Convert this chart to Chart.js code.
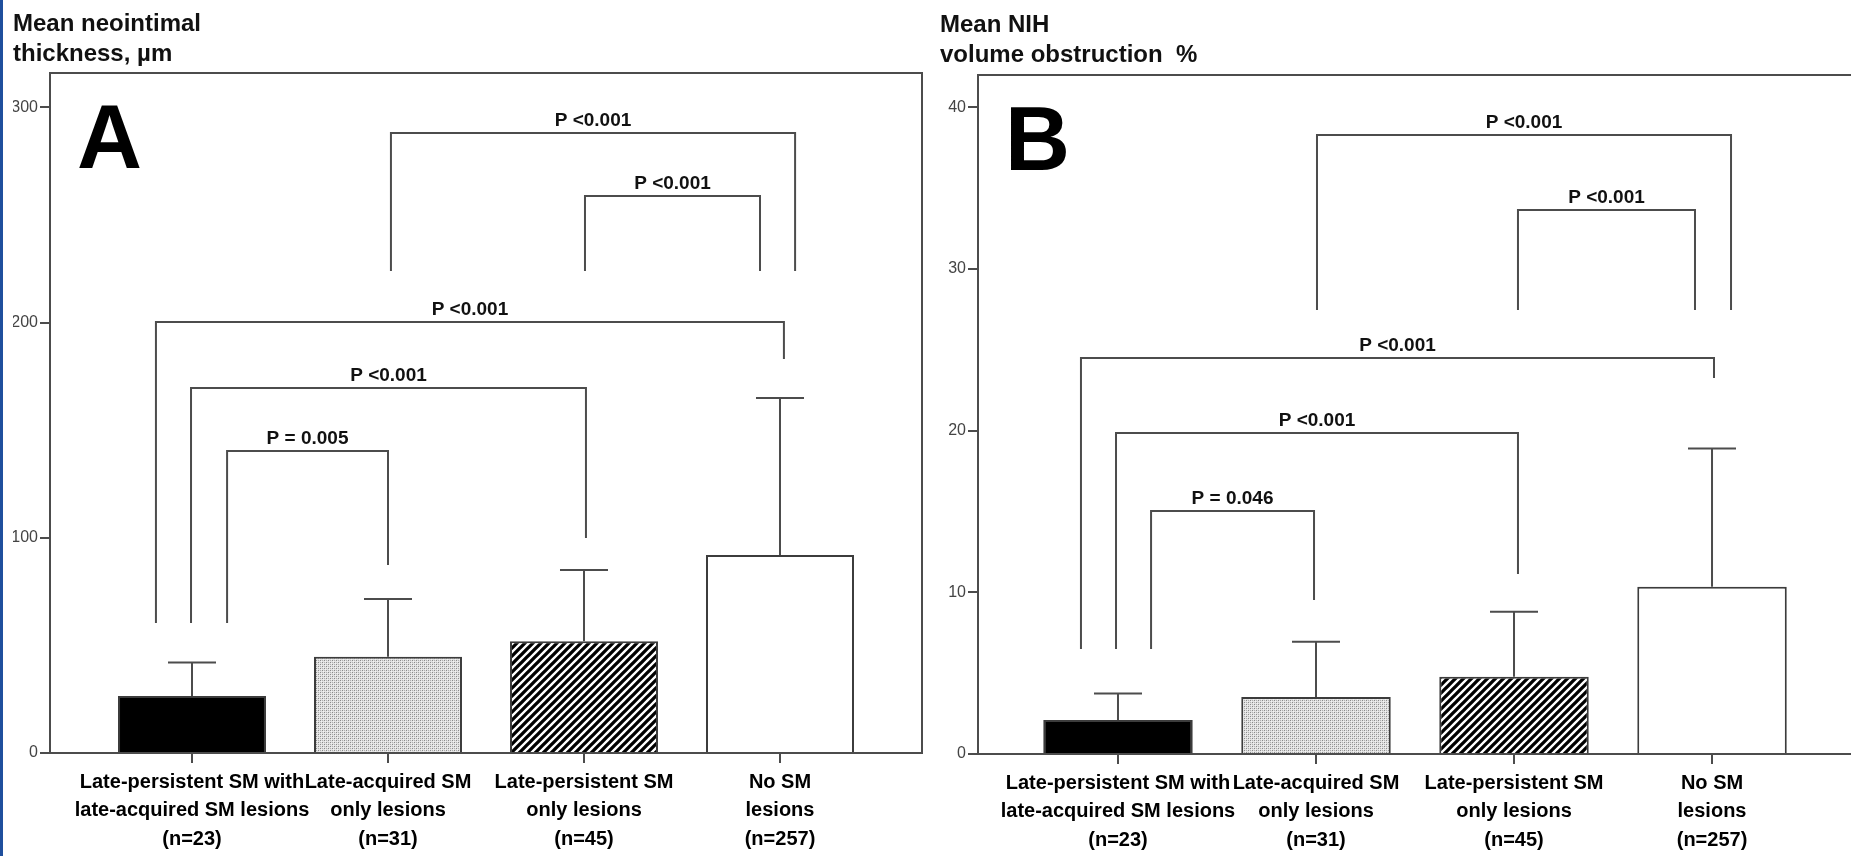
<!DOCTYPE html>
<html>
<head>
<meta charset="utf-8">
<script src="https://cdn.jsdelivr.net/npm/chart.js@4.4.1/dist/chart.umd.min.js"></script>
<style>
  html, body { margin:0; padding:0; background:#fff; overflow:hidden; width:1851px; height:856px; }
  #edge { position:absolute; left:0; top:0; width:3px; height:856px; background:#1f4f9d; }
  #wa { position:absolute; left:0; top:0; width:930px; height:856px; }
  #wb { position:absolute; left:926px; top:0; width:930px; height:856px; }
</style>
</head>
<body>
<div id="wa"><canvas id="ca"></canvas></div>
<div id="wb"><canvas id="cb"></canvas></div>
<div id="edge"></div>
<script>
// ---------- data ----------
const categories = [
  ['Late-persistent SM with', 'late-acquired SM lesions', '(n=23)'],
  ['Late-acquired SM', 'only lesions', '(n=31)'],
  ['Late-persistent SM', 'only lesions', '(n=45)'],
  ['No SM', 'lesions', '(n=257)']
];

const thicknessTitle = ['Mean neointimal', 'thickness, \u00b5m'];
const thicknessMean  = [26.5, 44.7, 51.9, 92];
const thicknessUpper = [42, 71.6, 85, 165];
const thicknessTicks = [0, 100, 200, 300];
const thicknessBrackets = [
  { from: 1.015,  to: 3.077, y: 288.1, fromEnd: 224,  toEnd: 224,   label: 'P <0.001' },
  { from: 2.005,  to: 2.898, y: 258.8, fromEnd: 224,  toEnd: 224,   label: 'P <0.001' },
  { from: -0.184, to: 3.02,  y: 200.3, fromEnd: 60.4, toEnd: 183.1, label: 'P <0.001' },
  { from: -0.005, to: 2.01,  y: 169.6, fromEnd: 60.4, toEnd: 99.9,  label: 'P <0.001' },
  { from: 0.179,  to: 1.0,   y: 140.3, fromEnd: 60.4, toEnd: 87.4,  label: 'P = 0.005' }
];

const obstructionTitle = ['Mean NIH', 'volume obstruction  %'];
const obstructionMean  = [2.1, 3.53, 4.78, 10.35];
const obstructionUpper = [3.75, 6.95, 8.8, 18.9];
const obstructionTicks = [0, 10, 20, 30, 40];
const obstructionBrackets = [
  { from: 1.005,  to: 3.096, y: 38.29, fromEnd: 27.46, toEnd: 27.46, label: 'P <0.001' },
  { from: 2.02,   to: 2.914, y: 33.65, fromEnd: 27.46, toEnd: 27.46, label: 'P <0.001' },
  { from: -0.187, to: 3.01,  y: 24.49, fromEnd: 6.49,  toEnd: 23.26, label: 'P <0.001' },
  { from: -0.01,  to: 2.02,  y: 19.86, fromEnd: 6.49,  toEnd: 11.13, label: 'P <0.001' },
  { from: 0.167,  to: 0.99,  y: 15.03, fromEnd: 6.49,  toEnd: 9.53,  label: 'P = 0.046' }
];

// ---------- styles ----------
const FONT = '"Liberation Sans", Arial, Helvetica, sans-serif';
const LINE = '#4c4c4c';

function stipple() {
  const c = document.createElement('canvas'); c.width = 4; c.height = 4;
  const g = c.getContext('2d');
  g.fillStyle = '#e2e2e2'; g.fillRect(0, 0, 4, 4);
  g.fillStyle = '#8a8a8a'; g.fillRect(0, 0, 1, 1); g.fillRect(2, 2, 1, 1);
  g.fillStyle = '#b0b0b0'; g.fillRect(2, 0, 1, 1); g.fillRect(0, 2, 1, 1);
  g.fillStyle = '#f2f2f2'; g.fillRect(1, 1, 1, 1); g.fillRect(3, 3, 1, 1);
  return g.createPattern(c, 'repeat');
}
function hatch() {
  const s = 8;
  const c = document.createElement('canvas'); c.width = s; c.height = s;
  const g = c.getContext('2d');
  g.fillStyle = '#fff'; g.fillRect(0, 0, s, s);
  g.strokeStyle = '#000'; g.lineWidth = 3.3;
  g.beginPath();
  g.moveTo(-2, s + 2); g.lineTo(s + 2, -2);
  g.moveTo(-2, 2); g.lineTo(2, -2);
  g.moveTo(s - 2, s + 2); g.lineTo(s + 2, s - 2);
  g.stroke();
  return g.createPattern(c, 'repeat');
}

const annotate = {
  id: 'annotate',
  afterDatasetsDraw(chart, args, o) {
    const { ctx, chartArea: a, scales: { x, y } } = chart;
    ctx.save();
    ctx.strokeStyle = LINE; ctx.lineWidth = 2; ctx.lineCap = 'butt'; ctx.lineJoin = 'miter';
    // frame
    ctx.strokeRect(a.left, a.top, a.right - a.left, a.bottom - a.top);
    // error bars (upper whisker)
    o.means.forEach((m, i) => {
      const px = x.getPixelForValue(i);
      const y0 = y.getPixelForValue(m), y1 = y.getPixelForValue(o.upper[i]);
      ctx.beginPath();
      ctx.moveTo(px, y0); ctx.lineTo(px, y1);
      ctx.moveTo(px - o.cap / 2, y1); ctx.lineTo(px + o.cap / 2, y1);
      ctx.stroke();
    });
    // significance brackets
    ctx.fillStyle = '#111';
    ctx.font = 'bold 19px ' + FONT;
    ctx.textAlign = 'center'; ctx.textBaseline = 'alphabetic';
    o.brackets.forEach(b => {
      const x1 = x.getPixelForValue(b.from), x2 = x.getPixelForValue(b.to);
      const yb = y.getPixelForValue(b.y);
      ctx.beginPath();
      ctx.moveTo(x1, y.getPixelForValue(b.fromEnd));
      ctx.lineTo(x1, yb); ctx.lineTo(x2, yb);
      ctx.lineTo(x2, y.getPixelForValue(b.toEnd));
      ctx.stroke();
      ctx.fillText(b.label, (x1 + x2) / 2, yb - 7);
    });
    // panel letter
    ctx.fillStyle = '#000';
    ctx.font = 'bold 90px ' + FONT;
    ctx.textAlign = 'left';
    ctx.fillText(o.letter, a.left + 27, a.top + 95);
    ctx.restore();
  }
};

function makeChart(id, cfg) {
  const fills = ['#000000', stipple(), hatch(), '#ffffff'];
  return new Chart(document.getElementById(id), {
    type: 'bar',
    data: {
      datasets: [{
        data: cfg.means.map((v, i) => ({ x: i, y: v })),
        backgroundColor: fills,
        borderColor: '#3c3c3c',
        borderWidth: 2,
        barPercentage: 0.755,
        categoryPercentage: 1
      }]
    },
    options: {
      responsive: true, maintainAspectRatio: false, animation: false, devicePixelRatio: 1,
      layout: { padding: { left: cfg.padLeft, right: cfg.padRight, top: 0, bottom: 0 } },
      plugins: {
        legend: { display: false },
        tooltip: { enabled: false },
        title: {
          display: true, text: cfg.title, align: 'start', color: '#111',
          font: { family: FONT, size: 24, weight: 'bold', lineHeight: 1.25 },
          padding: { top: cfg.titleTop, bottom: cfg.titleBottom }
        },
        annotate: { means: cfg.means, upper: cfg.upper, brackets: cfg.brackets, cap: 48, letter: cfg.letter }
      },
      scales: {
        x: {
          type: 'linear', min: cfg.xMin, max: cfg.xMax, offset: false,
          afterBuildTicks: s => { s.ticks = categories.map((c, i) => ({ value: i })); },
          afterFit: s => { s.height = cfg.xHeight; },
          ticks: {
            callback: v => categories[v], color: '#000', autoSkip: false, maxRotation: 0,
            font: { family: FONT, size: 20, weight: 'bold', lineHeight: 1.42 }, padding: 5
          },
          grid: { display: true, offset: false, drawOnChartArea: false, drawTicks: true, tickLength: 10, color: LINE, lineWidth: 2 },
          border: { display: false }
        },
        y: {
          min: 0, max: cfg.yMax,
          afterBuildTicks: s => { s.ticks = cfg.ticks.map(v => ({ value: v })); },
          afterFit: s => { s.width = cfg.yWidth; },
          ticks: { color: '#444', font: { family: FONT, size: 16 }, padding: 2 },
          grid: { display: true, drawOnChartArea: false, drawTicks: true, tickLength: 10, color: LINE, lineWidth: 2 },
          border: { display: false }
        }
      }
    },
    plugins: [annotate]
  });
}

makeChart('ca', {
  title: thicknessTitle, means: thicknessMean, upper: thicknessUpper, ticks: thicknessTicks,
  brackets: thicknessBrackets, letter: 'A',
  padLeft: 13, padRight: 8, yWidth: 37, xHeight: 103, titleTop: 9, titleBottom: 4,
  xMin: -0.7245, xMax: 3.7245, yMax: 316
});
makeChart('cb', {
  title: obstructionTitle, means: obstructionMean, upper: obstructionUpper, ticks: obstructionTicks,
  brackets: obstructionBrackets, letter: 'B',
  padLeft: 14, padRight: 3, yWidth: 38, xHeight: 102, titleTop: 10, titleBottom: 5,
  xMin: -0.707, xMax: 3.712, yMax: 42
});
</script>
</body>
</html>
